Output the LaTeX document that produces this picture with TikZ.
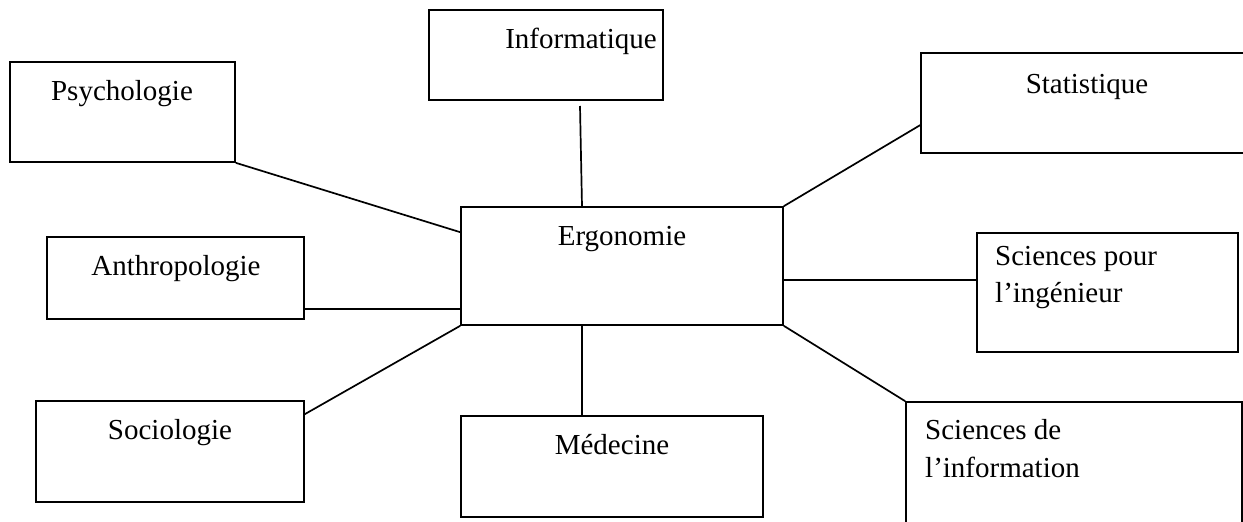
\documentclass[tikz,border=0pt]{standalone}
\usepackage{fontspec}
\setmainfont{Liberation Serif}
\usetikzlibrary{fit}
\begin{document}
\begin{tikzpicture}[x=1pt,y=-1pt,
  bx/.style={draw=black, line width=1.7pt, inner sep=0pt, rectangle},
  lbl/.style={inner sep=0pt, font=\fontsize{29}{37}\selectfont, text=black},
  link/.style={draw=black, line width=1.7pt}]
\useasboundingbox (0,0) rectangle (1243,522);
\clip (0,0) rectangle (1243,522);

% discipline boxes
\node[bx, fit={(10,62) (235,162)}]    (psy)  {};
\node[bx, fit={(429,10) (663,100)}]   (info) {};
\node[bx, fit={(921,53) (1270,153)}]  (stat) {};
\node[bx, fit={(461,207) (783,325)}]  (ergo) {};
\node[bx, fit={(977,233) (1238,352)}] (spi)  {};
\node[bx, fit={(47,237) (304,319)}]   (anth) {};
\node[bx, fit={(36,401) (304,502)}]   (soc)  {};
\node[bx, fit={(461,416) (763,517)}]  (med)  {};
\node[bx, fit={(906,402) (1242,580)}] (sdi)  {};

% labels
\node[lbl, anchor=base] (psyT)  at (122,100)  {Psychologie};
\node[lbl, anchor=base] (infoT) at (581,48)   {Informatique};
\node[lbl, anchor=base] (statT) at (1087,93)  {Statistique};
\node[lbl, anchor=base] (ergoT) at (622,245)  {Ergonomie};
\node[lbl, anchor=base west] (spiT1) at (995,265) {Sciences pour};
\node[lbl, anchor=base west] (spiT2) at (995,302) {l’ingénieur};
\node[lbl, anchor=base] (anthT) at (176,275)  {Anthropologie};
\node[lbl, anchor=base] (socT)  at (170,439)  {Sociologie};
\node[lbl, anchor=base] (medT)  at (612,454)  {Médecine};
\node[lbl, anchor=base west] (sdiT1) at (925,439) {Sciences de};
\node[lbl, anchor=base west] (sdiT2) at (925,477) {l’information};

% connector anchors
\coordinate (infoEnd) at (580,106);
\coordinate (ergoTop) at ([xshift=-40pt]ergo.north);
\coordinate (ergoLeftHi) at ([yshift=-26pt]ergo.north west);
\coordinate (statLeft) at ([yshift=-73pt]stat.north west);
\coordinate (anthRight) at ([yshift=11pt]anth.south east);
\coordinate (socRight) at ([yshift=-14pt]soc.north east);
\coordinate (medTop) at ([xshift=-30pt]med.north);
\coordinate (ergoRight) at ([yshift=-14pt]ergo.east);

% connectors
\draw[link] (psy.south east) -- (ergoLeftHi);
\draw[link] (infoEnd) -- (ergoTop);
\draw[link] (statLeft) -- (ergo.north east);
\draw[link] (anthRight) -- (anthRight -| ergo.west);
\draw[link] (socRight) -- (ergo.south west);
\draw[link] (medTop) -- (medTop |- ergo.south);
\draw[link] (ergoRight) -- (ergoRight -| spi.west);
\draw[link] (ergo.south east) -- (sdi.north west);
\end{tikzpicture}
\end{document}
